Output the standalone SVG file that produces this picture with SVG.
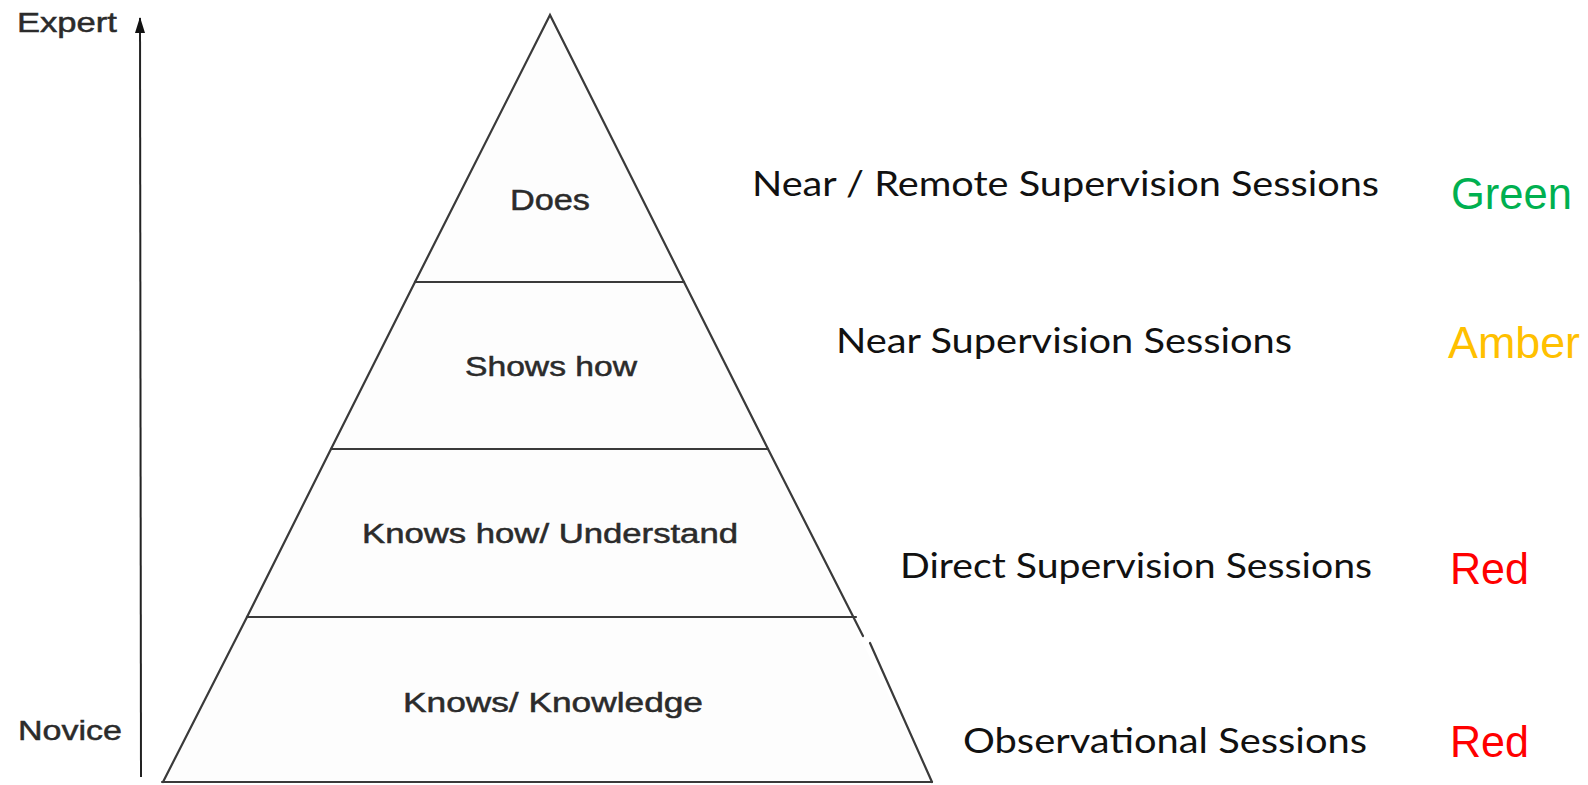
<svg xmlns="http://www.w3.org/2000/svg" width="1588" height="785" viewBox="0 0 1588 785">
<defs>
<style>
.edge{stroke:#3a3a3a;stroke-width:2.2;fill:none;stroke-linecap:round}
.tier{fill:#fdfdfd;stroke:none}
.plab{font-family:"Liberation Sans",Arial,sans-serif;fill:#2b2b2b;stroke:#2b2b2b;stroke-width:0.5;text-anchor:start}
.sess{font-family:Lato,"Open Sans",sans-serif;font-size:35px;fill:#111}
.rag{font-family:"Liberation Sans",Arial,sans-serif;font-size:44px}
</style>
<marker id="ah" viewBox="0 0 16 10" refX="15" refY="5" markerWidth="16" markerHeight="10" markerUnits="userSpaceOnUse" orient="auto">
<path d="M0 0 L16 5 L0 10 Z" fill="#111"/>
</marker>
</defs>
<rect width="1588" height="785" fill="#ffffff"/>

<g id="pyramid">
<polygon class="tier" points="550,15 163,782 932,782"/>
<g id="tier-does">
<polyline class="edge" points="415,282 550,15 684,282"/>
<text class="plab" x="510" y="210" font-size="30" textLength="80" lengthAdjust="spacingAndGlyphs">Does</text>
</g>
<g id="tier-shows-how">
<line class="edge" x1="415" y1="282" x2="684" y2="282"/>
<line class="edge" x1="415" y1="282" x2="331" y2="449"/>
<line class="edge" x1="684" y1="282" x2="768" y2="449"/>
<text class="plab" x="465" y="376" font-size="27" textLength="172" lengthAdjust="spacingAndGlyphs">Shows how</text>
</g>
<g id="tier-knows-how">
<line class="edge" x1="331" y1="449" x2="768" y2="449"/>
<line class="edge" x1="331" y1="449" x2="247" y2="617"/>
<line class="edge" x1="768" y1="449" x2="863" y2="636"/>
<text class="plab" x="362" y="543" font-size="27" textLength="376" lengthAdjust="spacingAndGlyphs">Knows how/ Understand</text>
</g>
<g id="tier-knows">
<line class="edge" x1="247" y1="617" x2="856" y2="617"/>
<line class="edge" x1="247" y1="617" x2="163" y2="782"/>
<line class="edge" x1="870" y1="643" x2="932" y2="782"/>
<line class="edge" x1="162" y1="782" x2="932" y2="782"/>
<text class="plab" x="403" y="712" font-size="27" textLength="300" lengthAdjust="spacingAndGlyphs">Knows/ Knowledge</text>
</g>
</g>

<g id="axis-labels">
<text id="expert" class="plab" x="17" y="32" font-size="28" textLength="100" lengthAdjust="spacingAndGlyphs">Expert</text>
<text id="novice" class="plab" x="18" y="740" font-size="28" textLength="104" lengthAdjust="spacingAndGlyphs">Novice</text>
</g>

<g id="connectors">
<line x1="141" y1="777" x2="140" y2="18" stroke="#222" stroke-width="2" marker-end="url(#ah)"/>
</g>

<g id="session-near-remote">
<text class="sess" x="752" y="196" textLength="627" lengthAdjust="spacingAndGlyphs">Near / Remote Supervision Sessions</text>
<text class="rag" x="1451" y="209" fill="#00B050" textLength="121" lengthAdjust="spacingAndGlyphs">Green</text>
</g>
<g id="session-near">
<text class="sess" x="836" y="353" textLength="456" lengthAdjust="spacingAndGlyphs">Near Supervision Sessions</text>
<text class="rag" x="1448" y="358" fill="#FFC000" textLength="132" lengthAdjust="spacingAndGlyphs">Amber</text>
</g>
<g id="session-direct">
<text class="sess" x="900" y="578" textLength="472" lengthAdjust="spacingAndGlyphs">Direct Supervision Sessions</text>
<text class="rag" x="1450" y="584" fill="#FF0000" textLength="79" lengthAdjust="spacingAndGlyphs">Red</text>
</g>
<g id="session-observational">
<text class="sess" x="963" y="753" textLength="404" lengthAdjust="spacingAndGlyphs">Observational Sessions</text>
<text class="rag" x="1450" y="757" fill="#FF0000" textLength="79" lengthAdjust="spacingAndGlyphs">Red</text>
</g>
</svg>
